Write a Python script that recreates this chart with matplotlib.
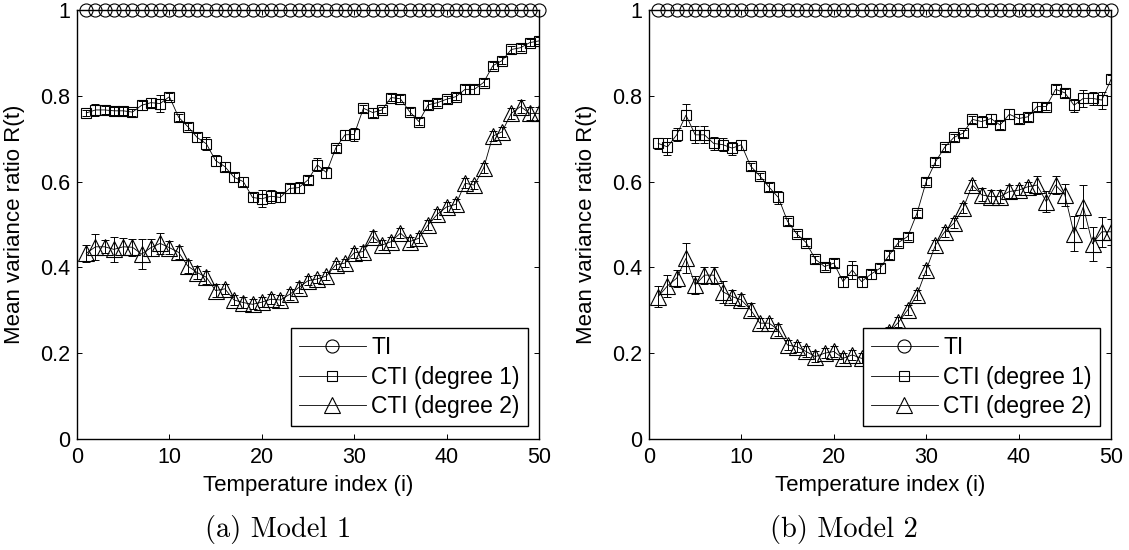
import matplotlib
matplotlib.use("Agg")
import matplotlib.pyplot as plt
import numpy as np

# ---------------- data ----------------
temp_index = list(range(1, 51))
ti_values = [1.0] * 50

m1_deg1 = [0.760, 0.767, 0.767, 0.765, 0.765, 0.762, 0.778, 0.784, 0.782, 0.798,
           0.750, 0.728, 0.703, 0.688, 0.649, 0.635, 0.610, 0.600, 0.563, 0.560,
           0.566, 0.563, 0.584, 0.586, 0.604, 0.639, 0.621, 0.678, 0.709, 0.710,
           0.771, 0.761, 0.767, 0.796, 0.793, 0.763, 0.740, 0.779, 0.784, 0.792,
           0.798, 0.815, 0.815, 0.831, 0.870, 0.882, 0.908, 0.912, 0.924, 0.928]
m1_deg1_err = [0.008, 0.015, 0.010, 0.010, 0.010, 0.008, 0.010, 0.010, 0.020, 0.008,
               0.008, 0.008, 0.010, 0.015, 0.012, 0.010, 0.010, 0.010, 0.010, 0.020,
               0.015, 0.010, 0.010, 0.012, 0.010, 0.015, 0.012, 0.008, 0.012, 0.015,
               0.008, 0.010, 0.008, 0.008, 0.008, 0.008, 0.008, 0.010, 0.008, 0.008,
               0.008, 0.010, 0.010, 0.008, 0.008, 0.008, 0.008, 0.008, 0.008, 0.008]

m1_deg2 = [0.433, 0.448, 0.448, 0.442, 0.448, 0.447, 0.431, 0.446, 0.456, 0.446,
           0.435, 0.403, 0.388, 0.377, 0.346, 0.350, 0.324, 0.318, 0.314, 0.319,
           0.326, 0.324, 0.337, 0.353, 0.369, 0.373, 0.380, 0.406, 0.410, 0.434,
           0.437, 0.472, 0.452, 0.460, 0.480, 0.460, 0.468, 0.499, 0.524, 0.541,
           0.547, 0.596, 0.592, 0.631, 0.706, 0.716, 0.759, 0.775, 0.759, 0.759]
m1_deg2_err = [0.020, 0.030, 0.015, 0.030, 0.020, 0.020, 0.035, 0.020, 0.025, 0.015,
               0.015, 0.015, 0.015, 0.015, 0.015, 0.012, 0.012, 0.012, 0.012, 0.012,
               0.012, 0.012, 0.012, 0.012, 0.010, 0.010, 0.010, 0.010, 0.010, 0.012,
               0.012, 0.012, 0.012, 0.012, 0.012, 0.012, 0.012, 0.012, 0.012, 0.012,
               0.012, 0.012, 0.010, 0.012, 0.012, 0.012, 0.012, 0.015, 0.015, 0.015]

m2_deg1 = [0.689, 0.681, 0.709, 0.755, 0.709, 0.709, 0.689, 0.686, 0.678, 0.686,
           0.636, 0.613, 0.587, 0.563, 0.507, 0.478, 0.458, 0.419, 0.402, 0.410,
           0.367, 0.394, 0.367, 0.384, 0.398, 0.429, 0.458, 0.472, 0.526, 0.600,
           0.646, 0.680, 0.703, 0.713, 0.745, 0.740, 0.747, 0.732, 0.757, 0.747,
           0.751, 0.775, 0.775, 0.815, 0.807, 0.778, 0.794, 0.794, 0.790, 0.838]
m2_deg1_err = [0.012, 0.020, 0.015, 0.025, 0.020, 0.020, 0.015, 0.015, 0.015, 0.012,
               0.008, 0.008, 0.010, 0.015, 0.008, 0.008, 0.008, 0.008, 0.008, 0.010,
               0.012, 0.020, 0.012, 0.010, 0.010, 0.010, 0.008, 0.008, 0.008, 0.008,
               0.008, 0.008, 0.008, 0.008, 0.008, 0.012, 0.010, 0.010, 0.012, 0.010,
               0.010, 0.010, 0.008, 0.010, 0.010, 0.015, 0.020, 0.015, 0.020, 0.010]

m2_deg2 = [0.332, 0.357, 0.375, 0.421, 0.359, 0.382, 0.382, 0.343, 0.332, 0.324,
           0.301, 0.270, 0.270, 0.254, 0.219, 0.215, 0.204, 0.192, 0.200, 0.204,
           0.188, 0.196, 0.188, 0.195, 0.220, 0.250, 0.272, 0.301, 0.336, 0.394,
           0.452, 0.483, 0.503, 0.538, 0.592, 0.569, 0.565, 0.565, 0.577, 0.580,
           0.588, 0.592, 0.553, 0.592, 0.569, 0.479, 0.541, 0.455, 0.483, 0.483]
m2_deg2_err = [0.025, 0.025, 0.020, 0.035, 0.020, 0.020, 0.020, 0.025, 0.015, 0.015,
               0.015, 0.012, 0.012, 0.015, 0.012, 0.012, 0.012, 0.012, 0.012, 0.012,
               0.012, 0.012, 0.012, 0.012, 0.012, 0.012, 0.012, 0.012, 0.012, 0.012,
               0.012, 0.012, 0.012, 0.012, 0.012, 0.015, 0.015, 0.015, 0.015, 0.012,
               0.012, 0.020, 0.025, 0.020, 0.025, 0.040, 0.050, 0.040, 0.035, 0.030]

series_labels = ["TI", "CTI (degree 1)", "CTI (degree 2)"]
x_ticks = [0, 10, 20, 30, 40, 50]
y_ticks = [0, 0.2, 0.4, 0.6, 0.8, 1]
y_tick_labels = ["0", "0.2", "0.4", "0.6", "0.8", "1"]
x_label = "Temperature index (i)"
y_label = "Mean variance ratio R(t)"
captions = ["(a) Model 1", "(b) Model 2"]

# ---------------- style ----------------
plt.rcParams['font.family'] = ['Liberation Sans', 'DejaVu Sans']
W, H = 1129, 550
fig = plt.figure(figsize=(W / 100, H / 100), dpi=100)

ax_left = [77, 649]
ax_w, ax_top, ax_bot = 462, 10, 439

panels = [(m1_deg1, m1_deg1_err, m1_deg2, m1_deg2_err),
          (m2_deg1, m2_deg1_err, m2_deg2, m2_deg2_err)]
caption_x = [278, 844]

for k, (d1, e1, d2, e2) in enumerate(panels):
    ax = fig.add_axes([ax_left[k] / W, 1 - ax_bot / H, ax_w / W, (ax_bot - ax_top) / H])
    lw = 0.6
    common = dict(color='k', lw=lw, mfc='none', mec='k', mew=0.8)
    ax.plot(temp_index, ti_values, marker='o', ms=9.4, label=series_labels[0],
            clip_on=False, zorder=5, **common)
    ax.errorbar(temp_index, d1, yerr=e1, fmt='none', ecolor='k', elinewidth=0.7,
                capsize=3.2, capthick=0.7, zorder=3)
    ax.plot(temp_index, d1, marker='s', ms=7.6, label=series_labels[1], zorder=4, **common)
    ax.errorbar(temp_index, d2, yerr=e2, fmt='none', ecolor='k', elinewidth=0.7,
                capsize=3.2, capthick=0.7, zorder=3)
    ax.plot(temp_index, d2, marker='^', ms=11, label=series_labels[2], zorder=4, **common)

    ax.set_xlim(0, 50)
    ax.set_ylim(0, 1)
    ax.set_xticks(x_ticks)
    ax.set_yticks(y_ticks)
    ax.set_yticklabels(y_tick_labels)
    ax.tick_params(direction='in', length=3.5, width=0.7, labelsize=15.5,
                   top=True, right=True)
    ax.tick_params(axis='x', pad=6)
    ax.tick_params(axis='y', pad=5)
    for sp in ax.spines.values():
        sp.set_linewidth(1.0)
    ax.set_xlabel(x_label, fontsize=16)
    ax.set_ylabel(y_label, fontsize=16)
    ax.xaxis.set_label_coords(0.5, -0.083)
    ax.yaxis.set_label_coords(-0.112, 0.5)

    leg = ax.legend(loc='lower right', bbox_to_anchor=(0.976, 0.030), borderaxespad=0,
                    fontsize=16.5, handlelength=2.9, handletextpad=0.25,
                    labelspacing=0.28, borderpad=0.35, fancybox=False,
                    edgecolor='k', framealpha=1)
    leg.get_frame().set_linewidth(1.0)
    leg.set_zorder(10)

    fig.text(caption_x[k] / W, 1 - 530 / H, captions[k], fontsize=20.5,
             family='cmr10', ha='center', va='center')

fig.savefig('out.png', dpi=100)
